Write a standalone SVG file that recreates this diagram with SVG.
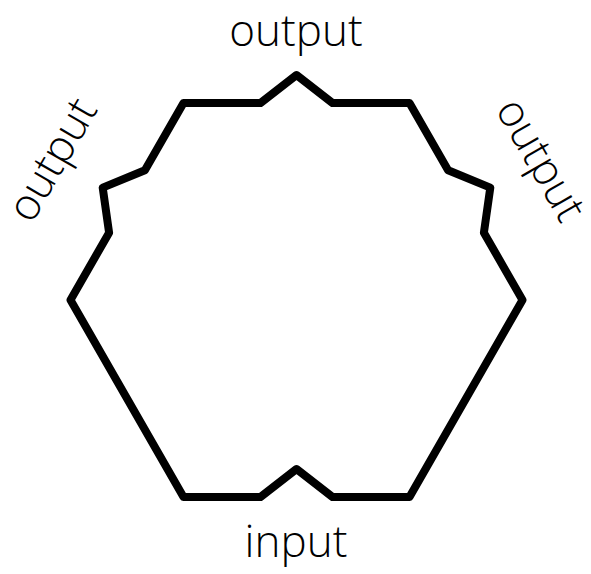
<svg xmlns="http://www.w3.org/2000/svg" width="591" height="574" viewBox="0 0 591 574">
<style>
.shape{fill:none;stroke:#000;stroke-width:8;stroke-linejoin:round}
.lbl{font-family:"Open Sans","Noto Sans","Liberation Sans",sans-serif;font-weight:300;font-size:44px;fill:#000;text-anchor:middle}
</style>
<g id="node-shape">
<path class="shape" d="M183.5,103 L260.5,103 L296.5,75 L332.5,103 L409.5,103 L448.1,170.3 L490.3,187.6 L483.9,232.7 L522.5,300 L409.5,497 L332.5,497 L296.5,469 L260.5,497 L183.5,497 L70.5,300 L109.1,232.7 L102.7,187.6 L144.9,170.3 Z"/>
</g>
<g id="node-labels">
<text class="lbl" x="296" y="46">output</text>
<text class="lbl" x="65" y="167" transform="rotate(-60 65 167)">output</text>
<text class="lbl" x="528" y="167" transform="rotate(60 528 167)">output</text>
<text class="lbl" x="296" y="557">input</text>
</g>
<g id="connectors"></g>
</svg>
